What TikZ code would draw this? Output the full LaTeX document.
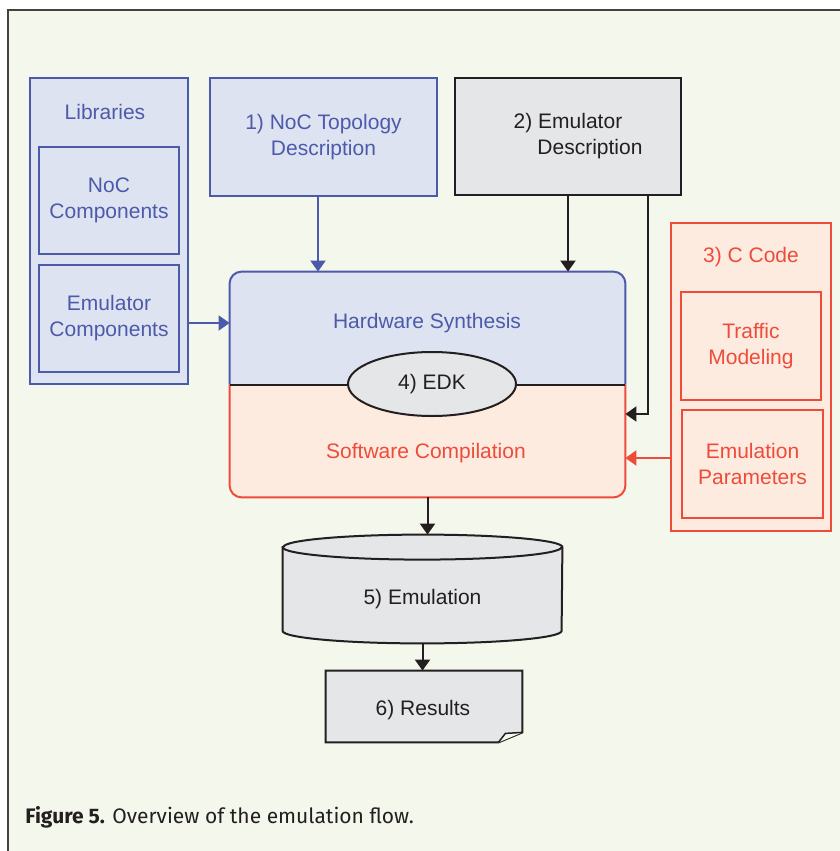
\documentclass[tikz,border=0pt]{standalone}
\usepackage{fontspec}
\setmainfont{Liberation Sans}
\newfontfamily\capfont{Fira Sans}
\usetikzlibrary{arrows.meta,calc,shapes.geometric}
\definecolor{paper}{HTML}{F4F7EB}
\definecolor{ink}{HTML}{231F20}
\definecolor{hwblue}{HTML}{4C5AAA}
\definecolor{hwfill}{HTML}{DEE3F2}
\definecolor{swred}{HTML}{EE4B3B}
\definecolor{swfill}{HTML}{FDEBDF}
\definecolor{grayfill}{HTML}{E5E6E8}
\tikzset{
  pin/.style={-{Triangle[length=5.5pt,width=7.5pt]},line width=1pt,draw=ink},
  bluepin/.style={pin,draw=hwblue},
  redpin/.style={pin,draw=swred},
  hwbox/.style={draw=hwblue,fill=hwfill,text=hwblue,line width=1pt,align=center,inner sep=0pt},
  inkbox/.style={draw=ink,fill=grayfill,text=ink,line width=1pt,align=center,inner sep=0pt},
  swbox/.style={draw=swred,fill=swfill,text=swred,line width=1pt,align=center,inner sep=0pt},
  inkshape/.style={draw=ink,fill=grayfill,line width=1pt}
}

\begin{document}
\begin{tikzpicture}[x=0.5pt,y=-0.5pt,font=\fontsize{10.5}{13}\selectfont]
  % page and frame
  \clip (0,0) rectangle (840,851);
  \fill[white] (0,0) rectangle (840,851);
  \draw[fill=paper,draw=ink!85,line width=0.75pt] (8,10) rectangle (860,870);
  % libraries
  \node[hwbox,minimum width=79pt,minimum height=153pt] (libs) at (109,231) {};
  \node[text=hwblue] (libtitle) at (105,112) {Libraries};
  \node[hwbox,minimum width=70pt,minimum height=53.5pt] (noccomp) at (109,200.5) {NoC\\Components};
  \node[hwbox,minimum width=70pt,minimum height=53.5pt] (emucomp) at (109,318.5) {Emulator\\Components};
  % inputs on top
  \node[hwbox,minimum width=113.5pt,minimum height=59pt] (topo) at (323.5,137) {1) NoC Topology\\Description};
  \node[inkbox,minimum width=113pt,minimum height=58.5pt] (emdesc) at (568,136.5) {2) Emulator\\\hspace*{22pt}Description};
  % c code
  \node[swbox,minimum width=80pt,minimum height=154pt] (ccode) at (751,377) {};
  \node[text=swred] (ctitle) at (751,257) {3) C Code};
  \node[swbox,minimum width=70pt,minimum height=54pt] (traffic) at (751,346) {Traffic\\Modeling};
  \node[swbox,minimum width=70.5pt,minimum height=54pt] (params) at (752.5,464) {Emulation\\Parameters};
  % synthesis / compilation block
  \node[minimum width=197.5pt,minimum height=112.5pt,inner sep=0pt] (flow) at (427.5,384.5) {};
  \filldraw[fill=hwfill,draw=hwblue,line width=1pt,rounded corners=6pt]
    (flow.west) -- (flow.north west) -- (flow.north east) -- (flow.east);
  \filldraw[fill=swfill,draw=swred,line width=1pt,rounded corners=6pt]
    (flow.west) -- (flow.south west) -- (flow.south east) -- (flow.east);
  \draw[ink,line width=1pt] (flow.west) -- (flow.east);
  \node[text=hwblue] (hw) at (427,323) {Hardware Synthesis};
  \node[text=swred] (sw) at (426,453) {Software Compilation};
  \node[ellipse,inkshape,text=ink,minimum width=84pt,minimum height=32pt,inner sep=0pt] (edk) at (432,384) {4) EDK};
  % emulation cylinder
  \node[minimum width=139.5pt,minimum height=54pt,inner sep=0pt] (emul) at (422.5,589) {};
  \coordinate (ctl) at ($(emul.north west)+(0,12.5)$);
  \coordinate (ctr) at ($(emul.north east)+(0,12.5)$);
  \coordinate (cbl) at ($(emul.south west)+(0,-12.5)$);
  \filldraw[inkshape] (ctl) -- (cbl) arc[start angle=180,end angle=360,x radius=69.75pt,y radius=6.25pt]
    -- (ctr) arc[start angle=0,end angle=180,x radius=69.75pt,y radius=6.25pt] -- cycle;
  \draw[inkshape,fill=none] (ctl) arc[start angle=180,end angle=360,x radius=69.75pt,y radius=6.25pt];
  \node[text=ink] (emultxt) at ($(emul)+(0,10)$) {5) Emulation};
  % results page
  \node[minimum width=98pt,minimum height=35.5pt,inner sep=0pt] (results) at (424,706.5) {};
  \coordinate (fold) at ($(results.south east)+(-24,0)$);
  \coordinate (foldtop) at ($(results.south east)+(0,-10)$);
  \filldraw[inkshape] (results.north west) -- (results.north east) -- (foldtop) -- (fold)
    -- (results.south west) -- cycle;
  \filldraw[draw=ink,fill=paper,line width=0.75pt] (fold) -- ($(results.south east)+(-17,-9)$) -- (foldtop);
  \node[text=ink] (restxt) at (423,710) {6) Results};
  % connectors
  \coordinate (topoout) at ([xshift=-2.75pt]topo.south);
  \coordinate (descout) at ([xshift=40pt]emdesc.south);
  \coordinate (swin) at ([yshift=-14.75pt]flow.east);
  \coordinate (paramin) at ($(params.west -| flow.east)+(0,-6)$);
  \draw[bluepin] (libs.east |- hw) -- (flow.west |- hw);
  \draw[bluepin] (topoout) -- (topoout |- flow.north);
  \draw[pin] (emdesc.south) -- (emdesc.south |- flow.north);
  \draw[pin] (descout) |- (swin);
  \draw[redpin] (ccode.west |- paramin) -- (paramin);
  \draw[pin] (flow.south) -- (flow.south |- emul.north);
  \draw[pin] (emul.south) -- (emul.south |- results.north);
  % caption
  \node[anchor=base west,inner sep=0pt,text=ink,font=\capfont\fontsize{10.5}{12}\selectfont] (caption)
    at (25,823) {\textbf{Figure 5.} Overview of the emulation flow.};
\end{tikzpicture}
\end{document}
